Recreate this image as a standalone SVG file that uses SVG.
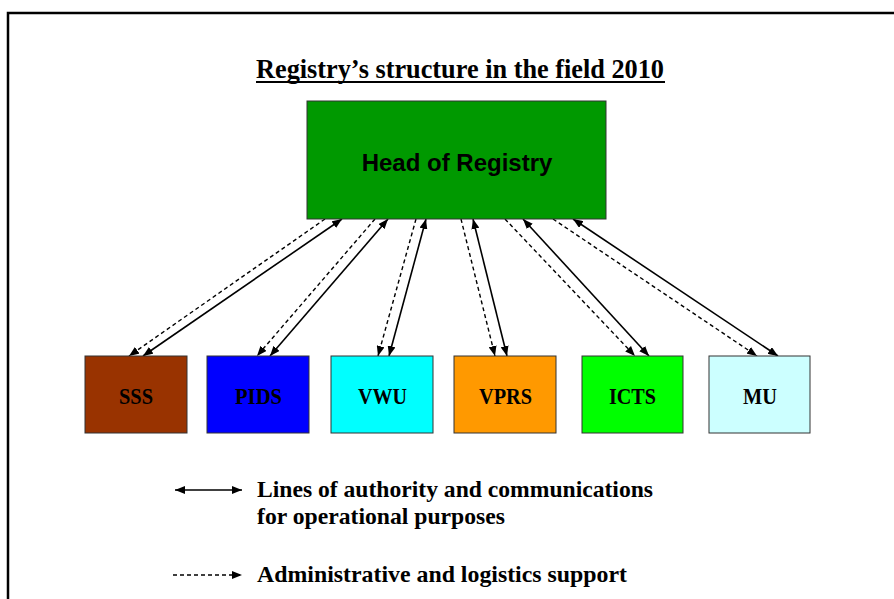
<svg xmlns="http://www.w3.org/2000/svg" width="894" height="599" viewBox="0 0 894 599">
  <style>
    .serif { font-family: "Liberation Serif", "Times New Roman", serif; font-weight: bold; fill: #000; }
    .sans { font-family: "Liberation Sans", Arial, sans-serif; font-weight: bold; fill: #000; }
    .box { stroke: #333; stroke-width: 1; }
    .solid { stroke: #000; stroke-width: 1.6; fill: none; marker-start: url(#head-start); marker-end: url(#head-end); }
    .dashed { stroke: #000; stroke-width: 1.4; fill: none; stroke-dasharray: 4 3; marker-end: url(#head-end); }
    .label { font-size: 23px; }
    .legend { font-size: 23px; }
  </style>
  <defs>
    <marker id="head-end" viewBox="0 0 10 8" refX="10" refY="4" markerWidth="10" markerHeight="8" markerUnits="userSpaceOnUse" orient="auto">
      <path d="M0,0 L10,4 L0,8 Z" fill="#000"/>
    </marker>
    <marker id="head-start" viewBox="0 0 10 8" refX="0" refY="4" markerWidth="10" markerHeight="8" markerUnits="userSpaceOnUse" orient="auto">
      <path d="M10,0 L0,4 L10,8 Z" fill="#000"/>
    </marker>
  </defs>

  <rect width="894" height="599" fill="#fff"/>
  <!-- frame (only left and top edges fall inside the page) -->
  <path d="M8,610 V13 H900" fill="none" stroke="#000" stroke-width="2.5"/>

  <!-- title -->
  <text class="serif" x="256" y="78" font-size="28" textLength="408" lengthAdjust="spacingAndGlyphs">Registry’s structure in the field 2010</text>
  <line x1="256" y1="82" x2="665" y2="82" stroke="#000" stroke-width="2"/>

  <!-- connectors -->
  <g id="connectors">
    <line class="dashed" x1="325" y1="219" x2="129" y2="356"/>
    <line class="solid" x1="342" y1="219" x2="143" y2="356"/>
    <line class="dashed" x1="375" y1="219" x2="257" y2="356"/>
    <line class="solid" x1="388" y1="219" x2="270" y2="356"/>
    <line class="dashed" x1="416" y1="219" x2="378" y2="356"/>
    <line class="solid" x1="426" y1="219" x2="389" y2="356"/>
    <line class="dashed" x1="461" y1="219" x2="495" y2="356"/>
    <line class="solid" x1="473" y1="219" x2="507" y2="356"/>
    <line class="dashed" x1="505" y1="219" x2="635" y2="356"/>
    <line class="solid" x1="523" y1="219" x2="649" y2="356"/>
    <line class="dashed" x1="553" y1="219" x2="757" y2="356"/>
    <line class="solid" x1="573" y1="219" x2="778" y2="356"/>
  </g>

  <!-- nodes -->
  <g id="head">
    <rect class="box" x="307" y="101" width="299" height="118" fill="#009900"/>
    <text class="sans" x="457" y="171" font-size="24" text-anchor="middle">Head of Registry</text>
  </g>
  <g id="sss">
    <rect class="box" x="85" y="356" width="102" height="77" fill="#993300"/>
    <text class="serif label" x="119" y="404" textLength="34" lengthAdjust="spacingAndGlyphs">SSS</text>
  </g>
  <g id="pids">
    <rect class="box" x="207" y="356" width="102" height="77" fill="#0000FF"/>
    <text class="serif label" x="235" y="404" textLength="47" lengthAdjust="spacingAndGlyphs">PIDS</text>
  </g>
  <g id="vwu">
    <rect class="box" x="331" y="356" width="102" height="77" fill="#00FFFF"/>
    <text class="serif label" x="358" y="404" textLength="49" lengthAdjust="spacingAndGlyphs">VWU</text>
  </g>
  <g id="vprs">
    <rect class="box" x="454" y="356" width="102" height="77" fill="#FF9900"/>
    <text class="serif label" x="479" y="404" textLength="53" lengthAdjust="spacingAndGlyphs">VPRS</text>
  </g>
  <g id="icts">
    <rect class="box" x="582" y="356" width="101" height="77" fill="#00FF00"/>
    <text class="serif label" x="609" y="404" textLength="47" lengthAdjust="spacingAndGlyphs">ICTS</text>
  </g>
  <g id="mu">
    <rect class="box" x="709" y="356" width="101" height="77" fill="#CCFFFF"/>
    <text class="serif label" x="743" y="404" textLength="34" lengthAdjust="spacingAndGlyphs">MU</text>
  </g>

  <!-- legend -->
  <g id="legend">
    <line class="solid" x1="175" y1="490" x2="242" y2="490" stroke-width="1.4"/>
    <text class="serif legend" x="257" y="497" textLength="396" lengthAdjust="spacingAndGlyphs">Lines of authority and communications</text>
    <text class="serif legend" x="257" y="524" textLength="248" lengthAdjust="spacingAndGlyphs">for operational purposes</text>
    <line class="dashed" x1="173" y1="575" x2="242" y2="575" stroke-width="1.2" stroke-dasharray="3 2"/>
    <text class="serif legend" x="257" y="582" textLength="370" lengthAdjust="spacingAndGlyphs">Administrative and logistics support</text>
  </g>
</svg>
